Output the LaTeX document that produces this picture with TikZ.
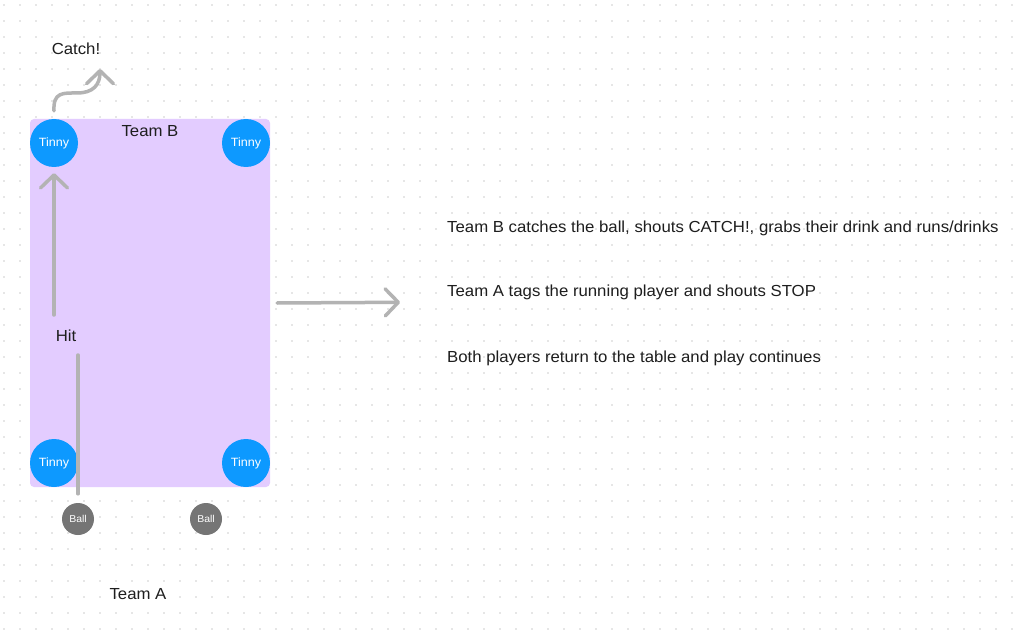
\documentclass[tikz,border=0pt]{standalone}
\usepackage{fontspec}
\setmainfont{Liberation Sans}[FakeStretch=1.048]
\usetikzlibrary{arrows.meta}
\definecolor{tablefill}{HTML}{E3CCFF}
\definecolor{tinnyblue}{HTML}{0D99FF}
\definecolor{ballgray}{HTML}{757575}
\definecolor{arrowgray}{HTML}{B3B3B3}
\definecolor{dotgray}{HTML}{E6E6E6}
\definecolor{ink}{HTML}{1E1E1E}
\begin{document}
\begin{tikzpicture}[x=1pt,y=-1pt,
  lbl/.style={font=\fontsize{16}{19}\selectfont, text=ink, inner sep=0pt},
  tinny/.style={circle, fill=tinnyblue, minimum size=48pt, inner sep=0pt, text=white, font=\fontsize{12}{14}\selectfont},
  ball/.style={circle, fill=ballgray, minimum size=32pt, inner sep=0pt, text=white, font=\fontsize{10}{12}\selectfont},
  conn/.style={draw=arrowgray, line width=3.5pt, line cap=round},
  barb/.style={-{Straight Barb[length=13pt,width=27pt,round]}},
]
\useasboundingbox (0,0) rectangle (1015,631);
\fill[white] (0,0) rectangle (1015,631);
\foreach \i in {0,...,63} {\foreach \j in {0,...,39} {\fill[dotgray] ({3+16*\i},{4+16*\j}) rectangle ++(2,2);}}
\node[fill=tablefill, rounded corners=4pt, minimum width=240pt, minimum height=368pt, inner sep=0pt] (table) at (150,303) {};
\node[tinny] (t1) at (54,143) {Tinny};
\node[tinny] (t2) at (246,143) {Tinny};
\node[tinny] (t3) at (54,463) {Tinny};
\node[tinny] (t4) at (246,463) {Tinny};
\node[ball] (b1) at (78,519) {Ball};
\node[ball] (b2) at (206,519) {Ball};
\node[lbl, anchor=base] (teamb) at (150,137) {Team B};
\node[lbl, anchor=base] (teama) at (138,599) {Team A};
\node[lbl, anchor=base] (hit) at (66,341) {Hit};
\node[lbl, anchor=base] (catch) at (76,55) {Catch!};
\node[lbl, anchor=base west] (s1) at (447,232.8) {Team B catches the ball, shouts CATCH!, grabs their drink and runs/drinks};
\node[lbl, anchor=base west] (s2) at (447,296.8) {Team A tags the running player and shouts STOP};
\node[lbl, anchor=base west] (s3) at (447,362.8) {Both players return to the table and play continues};
\coordinate (hitlow) at (78,355);
\coordinate (hitup) at (54,315);
\coordinate (catchtip) at (100,69);
\coordinate (stepstip) at (400,302.3);
\draw[conn, shorten >=9pt] (hitlow) -- (b1.north);
\draw[conn, barb, shorten >=6pt] (hitup) -- (t1.south);
\draw[conn, barb] ([yshift=8pt]t1.north) .. controls (53,92) and (63,93) .. (77,93) .. controls (93,93) and (100,85) .. (catchtip);
\draw[conn, barb] ([xshift=7pt]table.east) -- (stepstip);
\end{tikzpicture}
\end{document}
